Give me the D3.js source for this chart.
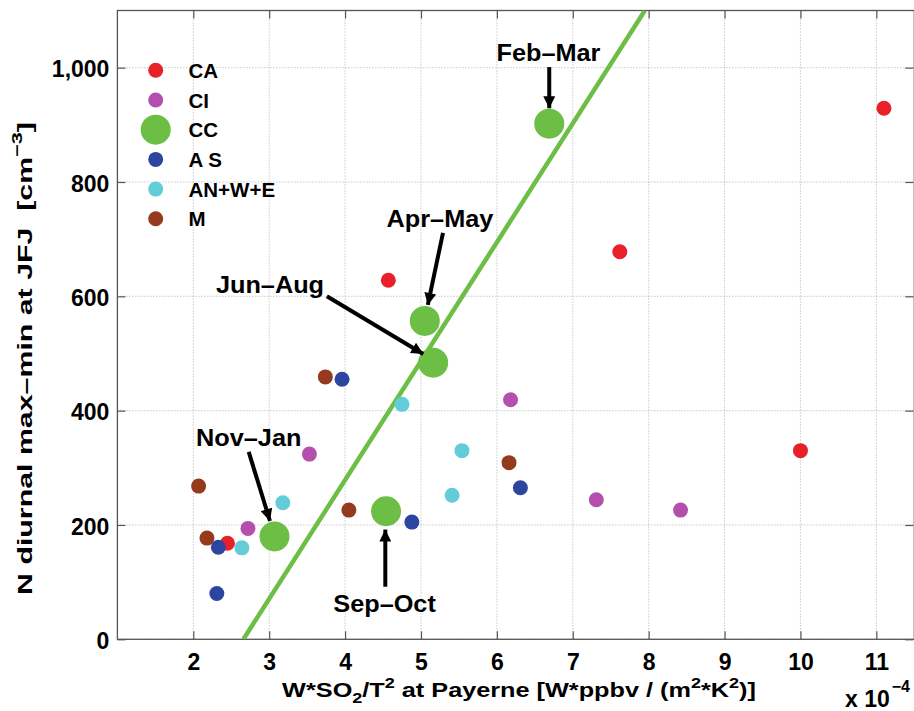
<!DOCTYPE html>
<html>
<head>
<meta charset="utf-8">
<script src="https://cdn.jsdelivr.net/npm/d3@7"></script>
<style>
  body { margin: 0; background: #fff; }
  svg { display: block; }
  text { font-family: "Liberation Sans", Arial, Helvetica, sans-serif; font-weight: bold; fill: #000; }
</style>
</head>
<body>
<svg id="chart" width="914" height="711"></svg>
<script>
// data, x in units of 1e-4
const groups = ["CA", "CI", "CC", "A S", "AN+W+E", "M"];
const groupColors = ["#e8202a", "#b54fae", "#6cbe45", "#2c46a0", "#62cdd8", "#963a1e"];

const caX = [4.57, 7.62, 11.1, 10.0, 2.45];
const caY = [628, 678, 929, 330, 168];
const ciX = [2.72, 3.53, 6.18, 7.31, 8.42];
const ciY = [194, 324, 419, 244, 226];
const ccX = [3.07, 4.54, 5.16, 5.05, 6.69];
const ccY = [180, 224, 484, 557, 902];
const asX = [2.31, 2.33, 3.96, 4.88, 6.31];
const asY = [80, 161, 455, 205, 265];
const anX = [2.64, 3.18, 4.75, 5.54, 5.41];
const anY = [160, 239, 411, 330, 252];
const mX = [2.07, 2.18, 3.74, 4.05, 6.16];
const mY = [268, 177, 459, 226, 309];

// fitted line endpoints
const fitX = [2.66, 7.95];
const fitY = [0, 1100];

// season labels for CC points
const seasons = ["Nov\u2013Jan", "Sep\u2013Oct", "Jun\u2013Aug", "Apr\u2013May", "Feb\u2013Mar"];
const labelX = [2.73, 4.52, 3.01, 5.25, 6.68];
const labelY = [338, 48, 606, 721, 1011];
const arrowFromX = [2.73, 4.53, 3.76, 5.29, 6.69];
const arrowFromY = [328, 92, 600, 711, 1001];
const arrowToX = [3.01, 4.53, 5.03, 5.09, 6.69];
const arrowToY = [207, 192, 499, 585, 929];

const xTicks = [2, 3, 4, 5, 6, 7, 8, 9, 10, 11];
const yTicks = [0, 200, 400, 600, 800, 1000];

const svg = d3.select("#chart");
const pLeft = 117.4, pRight = 914.3, pTop = 10.5, pBottom = 639.3;

const x = d3.scaleLinear().domain([1, 11.5]).range([pLeft, pRight]);
const y = d3.scaleLinear().domain([0, 1100]).range([pBottom, pTop]);

const defs = svg.append("defs");
defs.append("clipPath").attr("id", "plotclip")
  .append("rect").attr("x", pLeft).attr("y", pTop).attr("width", pRight - pLeft).attr("height", pBottom - pTop);

// grid
const grid = svg.append("g");
grid.selectAll("line.gx").data(xTicks).join("line")
  .attr("x1", d => x(d)).attr("x2", d => x(d)).attr("y1", pTop).attr("y2", pBottom)
  .attr("stroke", "#9a9a9a").attr("stroke-width", 0.8).attr("stroke-dasharray", "1,2");
grid.selectAll("line.gy").data(yTicks).join("line")
  .attr("y1", d => y(d)).attr("y2", d => y(d)).attr("x1", pLeft).attr("x2", pRight)
  .attr("stroke", "#9a9a9a").attr("stroke-width", 0.8).attr("stroke-dasharray", "1,2");

// axes: ticks point inward
const xAxis = d3.axisBottom(x).tickValues(xTicks).tickSize(-8).tickPadding(14).tickFormat(d3.format("d"));
const yAxis = d3.axisLeft(y).tickValues(yTicks).tickSize(-8).tickPadding(8).tickFormat(d3.format(","));

const gx = svg.append("g").attr("transform", `translate(0,${pBottom})`).call(xAxis);
const gy = svg.append("g").attr("transform", `translate(${pLeft},0)`).call(yAxis);
const gxt = svg.append("g").attr("transform", `translate(0,${pTop})`)
  .call(d3.axisTop(x).tickValues(xTicks).tickSize(-8).tickFormat(""));
const gyr = svg.append("g").attr("transform", `translate(${pRight - 1},0)`)
  .call(d3.axisRight(y).tickValues(yTicks).tickSize(-8).tickFormat(""));

[gx, gy, gxt, gyr].forEach(g => {
  g.select(".domain").remove();
  g.selectAll(".tick line").attr("stroke", "#555").attr("stroke-width", 1.2);
});
gx.selectAll(".tick text").attr("font-size", 23).attr("dy", "0.71em");
gy.selectAll(".tick text").attr("font-size", 23).attr("dy", "0.4em");

svg.append("rect").attr("x", pLeft).attr("y", pTop).attr("width", pRight - pLeft).attr("height", pBottom - pTop)
  .attr("fill", "none").attr("stroke", "#555").attr("stroke-width", 1.3);

// fit line
svg.append("line")
  .attr("clip-path", "url(#plotclip)")
  .attr("x1", x(fitX[0])).attr("y1", y(fitY[0]))
  .attr("x2", x(fitX[1])).attr("y2", y(fitY[1]))
  .attr("stroke", "#6cbe45").attr("stroke-width", 4.5);

// points
const series = [
  { xs: caX, ys: caY, c: groupColors[0], r: 7.5 },
  { xs: ciX, ys: ciY, c: groupColors[1], r: 7.5 },
  { xs: asX, ys: asY, c: groupColors[3], r: 7.5 },
  { xs: anX, ys: anY, c: groupColors[4], r: 7.5 },
  { xs: mX, ys: mY, c: groupColors[5], r: 7.5 },
  { xs: ccX, ys: ccY, c: groupColors[2], r: 15 }
];
series.forEach(s => {
  svg.append("g").selectAll("circle").data(s.xs).join("circle")
    .attr("cx", d => x(d))
    .attr("cy", (d, i) => y(s.ys[i]))
    .attr("r", s.r)
    .attr("fill", s.c);
});

// legend
const legend = svg.append("g");
groups.forEach((g, i) => {
  const cy = 70.3 + i * 29.7;
  legend.append("circle").attr("cx", 155.7).attr("cy", cy)
    .attr("r", g === "CC" ? 15 : 7.5).attr("fill", groupColors[i]);
  legend.append("text").attr("x", 188.5).attr("y", cy + 7.5)
    .attr("font-size", 20.5).text(g);
});

// arrows + season labels
defs.append("marker").attr("id", "arrowhead")
  .attr("viewBox", "0 0 10 10").attr("refX", 10).attr("refY", 5)
  .attr("markerWidth", 4.4).attr("markerHeight", 3.0).attr("markerUnits", "strokeWidth")
  .attr("orient", "auto")
  .append("path").attr("d", "M0,0 L10,5 L0,10 Z").attr("fill", "#000");

seasons.forEach((s, i) => {
  svg.append("line")
    .attr("x1", x(arrowFromX[i])).attr("y1", y(arrowFromY[i]))
    .attr("x2", x(arrowToX[i])).attr("y2", y(arrowToY[i]))
    .attr("stroke", "#000").attr("stroke-width", 4)
    .attr("marker-end", "url(#arrowhead)");
  svg.append("text")
    .attr("transform", `translate(${x(labelX[i])},${y(labelY[i])}) scale(1.1,1)`)
    .attr("text-anchor", "middle").attr("font-size", 23).text(s);
});

// stretch a label horizontally (in its own frame) to the wanted length
function fitLength(sel, want) {
  const w = sel.node().getBBox().width;
  return want / w;
}

// axis labels
const xl = svg.append("text").attr("text-anchor", "middle").attr("font-size", 21);
xl.append("tspan").text("W*SO");
xl.append("tspan").attr("font-size", 15).attr("dy", 6).text("2");
xl.append("tspan").attr("dy", -6).text("/T");
xl.append("tspan").attr("font-size", 15).attr("dy", -9).text("2");
xl.append("tspan").attr("dy", 9).text(" at Payerne [W*ppbv / (m");
xl.append("tspan").attr("font-size", 15).attr("dy", -9).text("2");
xl.append("tspan").attr("dy", 9).text("*K");
xl.append("tspan").attr("font-size", 15).attr("dy", -9).text("2");
xl.append("tspan").attr("dy", 9).text(")]");
xl.attr("transform", `translate(519,697) scale(${fitLength(xl, 474)},1)`);

const yl = svg.append("text").attr("text-anchor", "middle").attr("font-size", 21);
yl.append("tspan").text("N diurnal max\u2013min at JFJ\u00a0\u00a0[cm");
yl.append("tspan").attr("font-size", 15).attr("dy", -10).text("\u22123");
yl.append("tspan").attr("dy", 10).text("]");
yl.attr("transform", `translate(32,358.5) rotate(-90) scale(${fitLength(yl, 473)},1)`);

const ex = svg.append("text").attr("x", 845).attr("y", 707).attr("font-size", 23);
ex.append("tspan").text("x 10");
ex.append("tspan").attr("font-size", 16).attr("dx", 2).attr("dy", -15).text("\u22124");
</script>
</body>
</html>
